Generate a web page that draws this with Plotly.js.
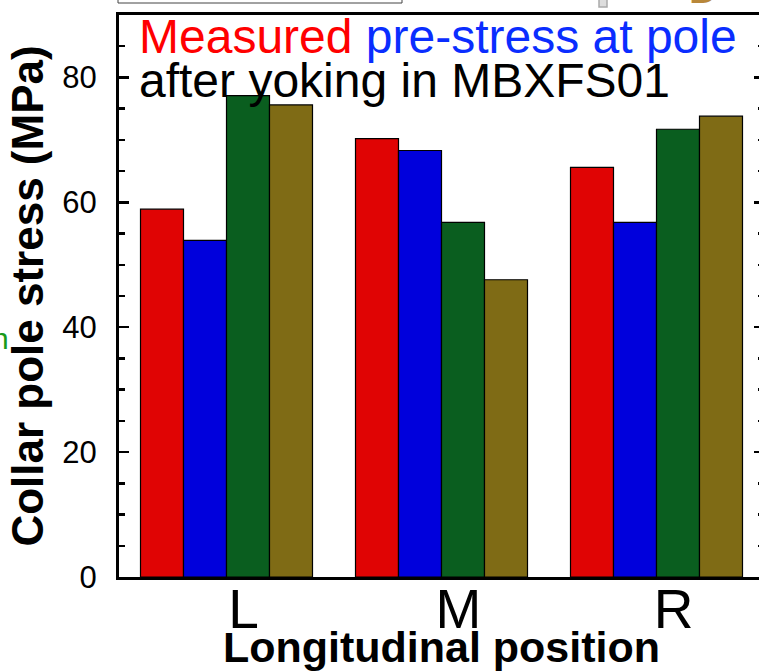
<!DOCTYPE html>
<html>
<head>
<meta charset="utf-8">
<script src="https://cdn.plot.ly/plotly-3.0.1.min.js"></script>
<style>
  html, body { margin: 0; padding: 0; overflow: hidden; background: #fff; }
  #chart { width: 800px; height: 671px; }
</style>
</head>
<body>
<div id="chart"></div>
<script>
// Collar pole stress per longitudinal position, four measurement sets
const positions = ['L', 'M', 'R'];
const setRed    = [58.9, 70.2, 65.6];
const setBlue   = [53.9, 68.3, 56.8];
const setGreen  = [77.1, 56.8, 71.7];
const setOlive  = [75.6, 47.6, 73.8];

const seriesNames  = ['Set 1', 'Set 2', 'Set 3', 'Set 4'];
const seriesValues = [setRed, setBlue, setGreen, setOlive];
const seriesColors = ['#e00404', '#0000dc', '#0a5e1f', '#7f6b15'];

const FONT = '"Liberation Sans", Arial, sans-serif';

// plot box in pixels (used to place the free-standing decorations)
const W = 800, H = 671;
const M = { l: 119, r: 36, t: 15, b: 94 };
const PW = W - M.l - M.r, PH = H - M.t - M.b;
const px = x => (x - M.l) / PW;
const py = y => (H - M.b - y) / PH;

const traces = seriesValues.map((vals, i) => ({
  type: 'bar',
  name: seriesNames[i],
  x: positions,
  y: vals,
  marker: { color: seriesColors[i], line: { color: '#000', width: 1.2 } },
  hoverinfo: 'x+y'
}));

const layout = {
  width: W, height: H,
  margin: M,
  showlegend: false,
  barmode: 'group',
  bargap: 0.2,
  bargroupgap: 0,
  paper_bgcolor: '#fff',
  plot_bgcolor: '#fff',
  font: { family: FONT, color: '#000' },
  xaxis: {
    type: 'category',
    range: [-0.5, 2.5],
    showline: true, linecolor: '#000', linewidth: 3,
    mirror: true,
    ticks: '',
    showgrid: false, zeroline: false,
    tickfont: { family: FONT, size: 55, color: '#000' },
    ticklabelshift: 17,
    ticklabelstandoff: -18,
    title: { text: '<b>Longitudinal position</b>', font: { family: FONT, size: 43, color: '#000' }, standoff: 0 }
  },
  yaxis: {
    range: [0, 90],
    showline: true, linecolor: '#000', linewidth: 3,
    mirror: 'allticks',
    ticks: 'inside', ticklen: 10, tickwidth: 2.5, tickcolor: '#000',
    dtick: 20, tick0: 0,
    minor: { dtick: 5, ticks: 'inside', ticklen: 6, tickwidth: 2.5, tickcolor: '#000', showgrid: false },
    showgrid: false, zeroline: false,
    tickfont: { family: FONT, size: 31, color: '#000' },
    ticklabelstandoff: 13,
    title: { text: '<b>Collar pole stress (MPa)</b>', font: { family: FONT, size: 44, color: '#000' }, standoff: 5 }
  },
  annotations: [
    {
      xref: 'paper', yref: 'paper', x: px(138), y: py(9), xanchor: 'left', yanchor: 'top',
      text: '<span style="color:#ff0000">Measured</span> <span style="color:#0a2dff">pre-stress at pole</span>',
      showarrow: false, font: { family: FONT, size: 48, color: '#000' }, borderpad: 0
    },
    {
      xref: 'paper', yref: 'paper', x: px(138), y: py(53), xanchor: 'left', yanchor: 'top',
      text: 'after yoking in MBXFS01',
      showarrow: false, font: { family: FONT, size: 48, color: '#000' }, borderpad: 0
    },
    // edge of neighbouring panel text
    {
      xref: 'paper', yref: 'paper', x: px(10), y: py(338), xanchor: 'right', yanchor: 'middle',
      text: 'n', showarrow: false, font: { family: FONT, size: 30, color: '#1a9a1a' }, borderpad: 0
    },
    {
      xref: 'paper', yref: 'paper', x: px(688), y: py(12), xanchor: 'left', yanchor: 'bottom',
      text: '<b>D</b>', showarrow: false, font: { family: FONT, size: 40, color: '#b8873a' }, borderpad: 0
    }
  ],
  shapes: [
    {
      type: 'rect', xref: 'paper', yref: 'paper',
      x0: px(118), x1: px(402), y0: py(3), y1: py(-30),
      line: { color: '#444', width: 1 }, fillcolor: 'rgba(0,0,0,0)'
    },
    {
      type: 'rect', xref: 'paper', yref: 'paper',
      x0: px(599), x1: px(607), y0: py(7), y1: py(-5),
      line: { color: '#aaa', width: 1.5 }, fillcolor: '#ddd'
    }
  ]
};

Plotly.newPlot('chart', traces, layout, { staticPlot: true, displayModeBar: false });
</script>
</body>
</html>
